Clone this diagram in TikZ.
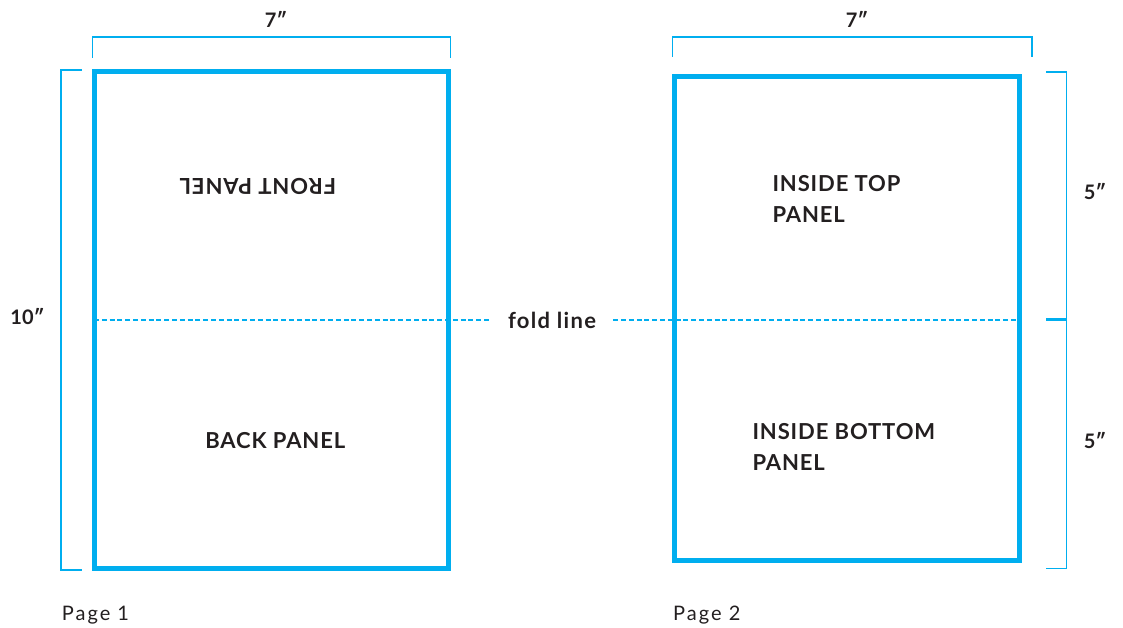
\documentclass[tikz,border=0pt]{standalone}
\usepackage{fontspec}
\setmainfont{Lato}
\usetikzlibrary{positioning}
\definecolor{foldblue}{RGB}{0,174,239}
\definecolor{inkgrey}{RGB}{35,31,32}

\begin{document}
\begin{tikzpicture}[x=1pt,y=-1pt]
\tikzstyle{panel} = [rectangle, draw=foldblue, line width=5pt, inner sep=0pt, outer sep=0pt]
\tikzstyle{dim} = [draw=foldblue, line width=1.6pt]
\tikzstyle{label} = [font=\addfontfeatures{LetterSpace=4}\bfseries\fontsize{22}{31.5}\selectfont,
text=inkgrey, inner sep=0pt, align=left]
\tikzstyle{size} = [font=\bfseries\fontsize{20}{24}\selectfont, text=inkgrey, inner sep=0pt]
\tikzstyle{page} = [font=\addfontfeatures{LetterSpace=10}\fontsize{20}{24}\selectfont, text=inkgrey, inner sep=0pt, anchor=base west]
\tikzstyle{fold} = [draw=foldblue, line width=1.6pt, dash pattern=on 5pt off 2.8pt]
\useasboundingbox (0,0) rectangle (1123,628);

% page 1
\node [panel, minimum width=354pt, minimum height=496.5pt] (p1) at (271,319.75) {};
\node [label, rotate=180] (front) at (258,186.5) {FRONT PANEL};
\node [label] (back) at (275.3,440.5) {BACK PANEL};
\node [page] (page1) at (61.7,620) {Page 1};

% page 2
\node [panel, minimum width=344.2pt, minimum height=483.5pt] (p2) at (846.9,318.75) {};
\node [label, anchor=north west] (top) at (772.3,175) {INSIDE TOP\\PANEL};
\node [label, anchor=north west] (bottom) at (752.3,423) {INSIDE BOTTOM\\PANEL};
\node [page] (page2) at (673,620) {Page 2};

% fold line
\node [size, font=\addfontfeatures{LetterSpace=6}\bfseries\fontsize{22}{24}\selectfont,
inner xsep=17pt] (foldlbl) at (552,320) {fold line};
\path [fold] (p1.west |- foldlbl) -- (foldlbl.west);
\path [fold] (foldlbl.east) -- (p2.east |- foldlbl);

% dimensions
\path [dim] (92.3,58) -- (92.3,37) -- (450.3,37) -- (450.3,58);
\node [size] (w1) at (276,19.5) {7″};
\path [dim] (672.5,57) -- (672.5,37) -- (1031.7,37) -- (1031.7,57);
\node [size] (w2) at (857,19.5) {7″};
\path [dim] (82,70) -- (61,70) -- (61,570) -- (82,570);
\node [size] (h1) at (27.5,316.8) {10″};
\path [dim] (1046,72) -- (1066.5,72) -- (1066.5,568.5) -- (1046,568.5);
\path [dim, line width=3pt] (1046,319.7) -- (1066.5,319.7);
\node [size] (h2) at (1095,192) {5″};
\node [size] (h3) at (1095,441) {5″};
\end{tikzpicture}
\end{document}
